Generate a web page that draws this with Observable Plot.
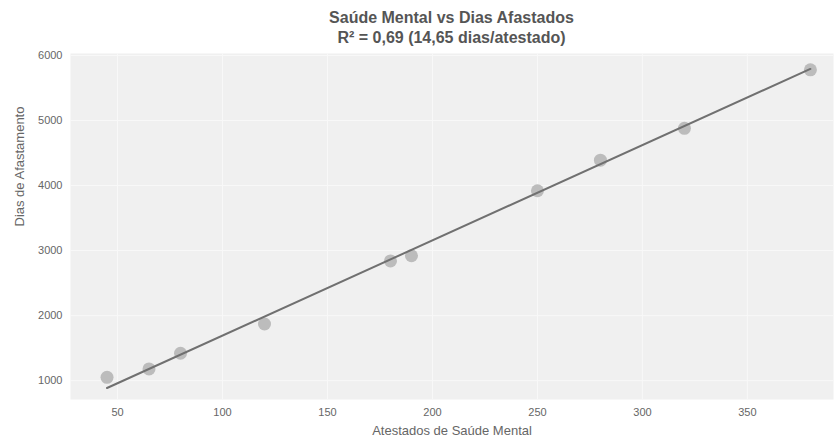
<!DOCTYPE html>
<html>
<head>
<meta charset="utf-8">
<script src="https://cdn.jsdelivr.net/npm/d3@7"></script>
<script src="https://cdn.jsdelivr.net/npm/@observablehq/plot@0.6"></script>
<style>
  html, body { margin: 0; padding: 0; background: #ffffff; }
  body { width: 836px; height: 443px; overflow: hidden; font-family: "Liberation Sans", Arial, sans-serif; }
  #title {
    box-sizing: border-box;
    height: 46px;
    padding: 8px 3px 0 70px;
    text-align: center;
    font-weight: bold;
    font-size: 16px;
    line-height: 20px;
    color: #555555;
  }
  svg { display: block; }
</style>
</head>
<body>
<div id="title">Saúde Mental vs Dias Afastados<br>R² = 0,69 (14,65 dias/atestado)</div>
<div id="chart"></div>
<script>
// Atestados de saúde mental e dias de afastamento correspondentes
const atestados = [45, 65, 80, 120, 180, 190, 250, 280, 320, 380];
const diasAfastados = [1050, 1180, 1420, 1870, 2840, 2920, 3920, 4390, 4880, 5780];

const xTicks = [50, 100, 150, 200, 250, 300, 350];
const yTicks = [1000, 2000, 3000, 4000, 5000, 6000];

// Reta de tendência: 14,65 dias por atestado, passando pelo ponto médio
const inclinacao = 14.65;
const mediaX = d3.mean(atestados);
const mediaY = d3.mean(diasAfastados);
const intercepto = mediaY - inclinacao * mediaX;

const pontos = atestados.map((x, i) => ({x, y: diasAfastados[i]}));
const [xMin, xMax] = d3.extent(atestados);
const reta = [xMin, xMax].map(x => ({x, y: intercepto + inclinacao * x}));

const chart = Plot.plot({
  width: 836,
  height: 397,
  marginTop: 7,
  marginBottom: 44,
  marginLeft: 70,
  marginRight: 3,
  style: {fontFamily: "Liberation Sans, Arial, sans-serif", fontSize: "11px", color: "#666666", background: "#ffffff"},
  x: {domain: [27.6, 391], ticks: xTicks},
  y: {domain: [709, 6031], ticks: yTicks},
  marks: [
    Plot.frame({fill: "#f0f0f0", stroke: "none"}),
    Plot.gridX(xTicks, {stroke: "#f8f8f8", strokeOpacity: 1, strokeWidth: 1}),
    Plot.gridY(yTicks, {stroke: "#f8f8f8", strokeOpacity: 1, strokeWidth: 1}),
    Plot.axisX(xTicks, {tickSize: 0, tickPadding: 9, label: null, fill: "#666666", fontSize: 11, tickFormat: d => String(d)}),
    Plot.axisY(yTicks, {tickSize: 0, tickPadding: 8, label: null, fill: "#666666", fontSize: 11, tickFormat: d => String(d)}),
    Plot.dot(pontos, {x: "x", y: "y", r: 6.5, fill: "#b8b8b8", fillOpacity: 0.95, stroke: "none"}),
    Plot.line(reta, {x: "x", y: "y", stroke: "#707070", strokeWidth: 2}),
    Plot.text(["Atestados de Saúde Mental"], {frameAnchor: "bottom", dy: 35, fontSize: 13, fill: "#666666"}),
    Plot.text(["Dias de Afastamento"], {frameAnchor: "left", dx: -51, rotate: -90, fontSize: 13, fill: "#666666"})
  ]
});
document.getElementById("chart").appendChild(chart);
</script>
</body>
</html>
